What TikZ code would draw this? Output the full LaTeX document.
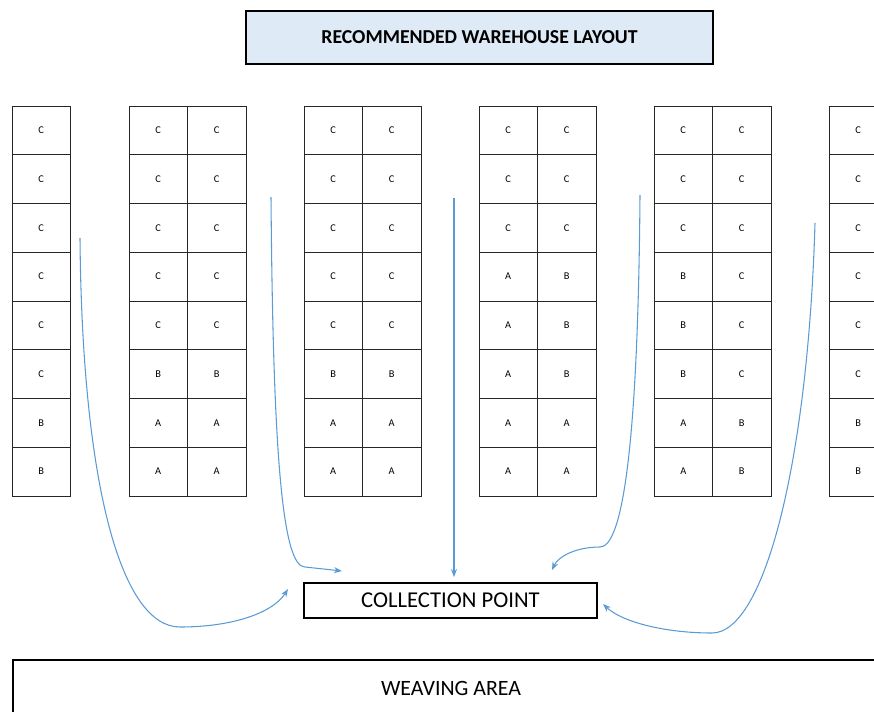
\documentclass[tikz,border=0pt]{standalone}
\usepackage{fontspec}
\setmainfont{Carlito}
\usetikzlibrary{arrows.meta}
\definecolor{flowblue}{RGB}{91,155,213}
\definecolor{titlefill}{RGB}{222,235,247}
\tikzset{
  cell/.style={draw=black!85, line width=0.7pt, minimum width=43.875pt, minimum height=36.5625pt, inner sep=0pt, font=\fontsize{7.8}{9}\selectfont},
  bigbox/.style={draw=black, line width=1.5pt, inner sep=0pt, anchor=north west},
  flow/.style={draw=flowblue, line width=0.8pt, -{Stealth[length=6pt,width=4.5pt]}},
}
\newcommand\rackcol[3]{%
  \foreach \l [count=\i] in {#3} {
    \node[cell] (#1-\i) at ({#2+29.25},{106+(\i-0.5)*48.75}) {\l};
  }%
}
\begin{document}
\begin{tikzpicture}[x=0.75pt,y=-0.75pt]
\useasboundingbox (0,0) rectangle (874,711);
\clip (0,0) rectangle (874,711);
% title
\node[bigbox, fill=titlefill, minimum width=350.25pt, minimum height=39.75pt, font=\bfseries\fontsize{14.8}{17}\selectfont] (title) at (245,10) {RECOMMENDED WAREHOUSE LAYOUT};
% racks
\rackcol{r0}{12}{C,C,C,C,C,C,B,B}
\rackcol{r1a}{129}{C,C,C,C,C,B,A,A}
\rackcol{r1b}{187.5}{C,C,C,C,C,B,A,A}
\rackcol{r2a}{304}{C,C,C,C,C,B,A,A}
\rackcol{r2b}{362.5}{C,C,C,C,C,B,A,A}
\rackcol{r3a}{479}{C,C,C,A,A,A,A,A}
\rackcol{r3b}{537.5}{C,C,C,B,B,B,A,A}
\rackcol{r4a}{654}{C,C,C,B,B,B,A,A}
\rackcol{r4b}{712.5}{C,C,C,C,C,C,B,B}
\rackcol{r5}{829}{C,C,C,C,C,C,B,B}
% collection point
\node[bigbox, minimum width=219.75pt, minimum height=26.25pt, font=\fontsize{17}{20}\selectfont] (cp) at (303,582) {COLLECTION POINT};
% weaving area
\node[bigbox, minimum width=700pt, minimum height=60pt, anchor=north west] (wa) at (12,659) {};
\node[font=\fontsize{16.4}{19}\selectfont] (walabel) at (451,688) {WEAVING AREA};
% flow start / end points
\coordinate (s1) at (80,238);
\coordinate (e1) at (288,589);
\coordinate (s2) at (271,197);
\coordinate (e2) at (342,571);
\coordinate (s3) at (454,198);
\coordinate (e3) at (454,577);
\coordinate (s4) at (640,195);
\coordinate (e4) at (552,570);
\coordinate (s5) at (815,223);
\coordinate (e5) at (603,604);
% flows
\draw[flow] (s1) .. controls (82,480) and (120,627) .. (180,627) .. controls (230,627) and (272,614) .. (e1);
\draw[flow] (s2) .. controls (273,450) and (282,567) .. (305,567) -- (e2);
\draw[flow] (s3) -- (e3);
\draw[flow] (s4) .. controls (638,450) and (622,547) .. (600,547) .. controls (575,547) and (558,557) .. (e4);
\draw[flow] (s5) .. controls (808,460) and (765,633) .. (712,633) .. controls (665,633) and (622,622) .. (e5);
\end{tikzpicture}
\end{document}
